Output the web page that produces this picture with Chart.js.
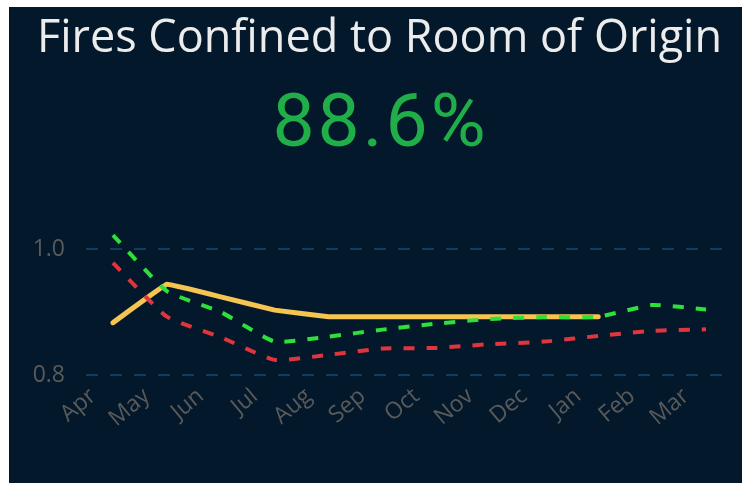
<!DOCTYPE html>
<html>
<head>
<meta charset="utf-8">
<script src="https://cdn.jsdelivr.net/npm/chart.js@4.4.1/dist/chart.umd.min.js"></script>
<style>
  html, body { margin: 0; padding: 0; background: #ffffff; }
  #panel { position: absolute; left: 9px; top: 7px; width: 733px; height: 476px; background: #03192b; overflow: hidden; }
  #title { position: absolute; left: 4px; width: 733px; top: 0px; text-align: center; color: #ececec;
           font-family: "Open Sans", "Noto Sans", sans-serif; font-size: 45px; line-height: 56px; white-space: nowrap; }
  #kpi { position: absolute; left: 5px; width: 733px; top: 70px; text-align: center; color: #20ae48;
         font-family: Roboto, "Noto Sans", sans-serif; font-size: 75px; line-height: 86px; letter-spacing: 3px; white-space: nowrap; }
  #wrap { position: absolute; left: 0; top: 0; width: 733px; height: 476px; }
</style>
</head>
<body>
<div id="panel">
  <div id="wrap"><canvas id="c"></canvas></div>
  <div id="title">Fires Confined to Room of Origin</div>
  <div id="kpi">88.6%</div>
</div>
<script>
const months = ["Apr","May","Jun","Jul","Aug","Sep","Oct","Nov","Dec","Jan","Feb","Mar"];
const actual = [0.883, 0.944, 0.924, 0.903, 0.8925, 0.8925, 0.8925, 0.8925, 0.8925, 0.8925, null, null];
const upper  = [1.022, 0.933, 0.900, 0.853, 0.861, 0.872, 0.8815, 0.889, 0.892, 0.8925, 0.911, 0.904];
const lower  = [0.978, 0.8925, 0.860, 0.824, 0.832, 0.842, 0.843, 0.849, 0.853, 0.862, 0.870, 0.8725];
const yTicks = [0.8, 1.0];

new Chart(document.getElementById('c'), {
  type: 'line',
  data: {
    labels: months,
    datasets: [
      { label: 'Upper', data: upper, borderColor: '#2ee03a', borderWidth: 4, borderDash: [11, 12],
        pointRadius: 0, tension: 0.15, fill: false },
      { label: 'Lower', data: lower, borderColor: '#e0353f', borderWidth: 4, borderDash: [11, 12],
        pointRadius: 0, tension: 0.15, fill: false },
      { label: 'Actual', data: actual, borderColor: '#f5c451', borderWidth: 5, borderCapStyle: 'round',
        borderJoinStyle: 'round', pointRadius: 0, tension: 0.05, fill: false, spanGaps: false }
    ]
  },
  options: {
    responsive: true,
    maintainAspectRatio: false,
    animation: false,
    layout: { padding: { top: 216.8, right: 9, bottom: 0, left: 0 } },
    plugins: { legend: { display: false }, tooltip: { enabled: false }, title: { display: false } },
    scales: {
      x: {
        offset: true,
        grid: { display: false, drawTicks: false },
        border: { display: false },
        ticks: { color: '#5a5a5a', font: { family: "'Open Sans', 'Noto Sans', sans-serif", size: 23 },
                 minRotation: 40, maxRotation: 40, padding: -5, labelOffset: -20, autoSkip: false },
        afterFit: s => { s.height = 95.4; }
      },
      y: {
        min: 0.78, max: 1.04,
        afterBuildTicks: s => { s.ticks = yTicks.map(v => ({ value: v })); },
        grid: { color: '#0f3c60', lineWidth: 2, drawTicks: false },
        border: { display: false, dash: [12, 12] },
        ticks: { color: '#5a5a5a', font: { family: "'Open Sans', 'Noto Sans', sans-serif", size: 23 },
                 padding: 21, callback: v => Number(v).toFixed(1) },
        afterFit: s => { s.width = 77; }
      }
    }
  }
});
</script>
</body>
</html>
